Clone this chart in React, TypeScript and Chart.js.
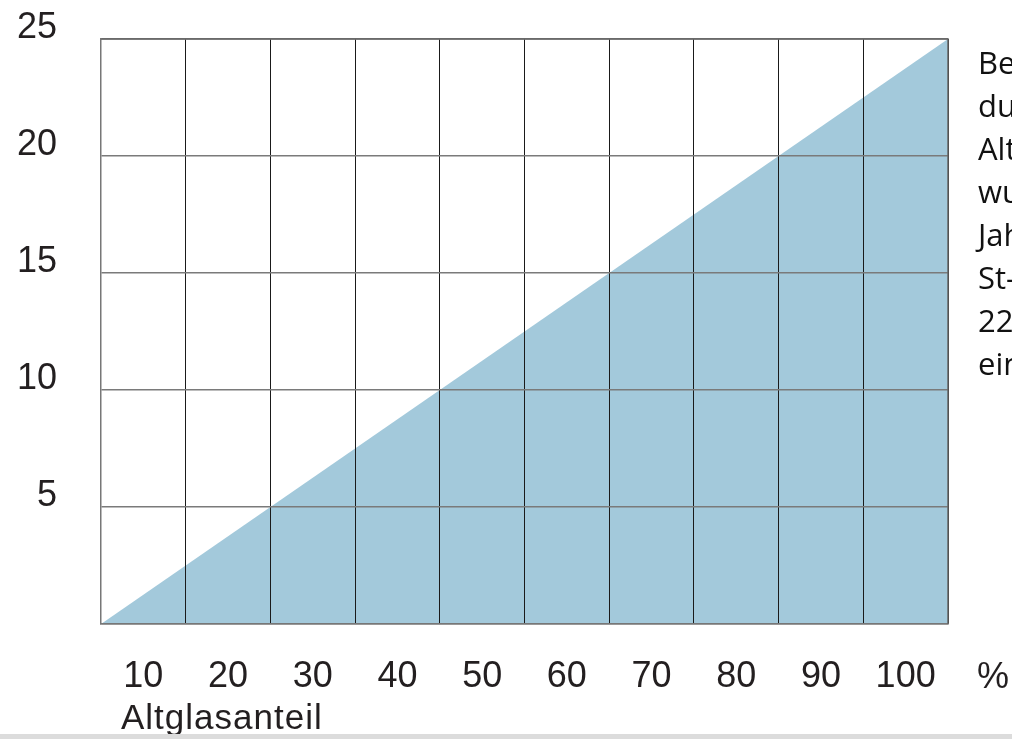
import React, { useEffect, useRef } from "react";
import { Chart, registerables } from "chart.js";

Chart.register(...registerables);

const categories = ["10", "20", "30", "40", "50", "60", "70", "80", "90", "100"];
const lineX = [0, 100];
const lineY = [0, 25];
const yTickValues = [0, 5, 10, 15, 20, 25];
const xUnit = "%";
const xTitle = "Altglasanteil";
const sideLines = [
  "Bei der Glasherstellung",
  "durch den Einsatz von",
  "Altglas eingespart",
  "wurden im",
  "Jahr 2010 rund",
  "St-Einheiten",
  "22 Prozent",
  "eingespart",
];

const FONT = "'Liberation Sans', Arial, sans-serif";
const TEXT = "#231f20";

export default function App() {
  const ref = useRef<HTMLCanvasElement | null>(null);

  useEffect(() => {
    if (!ref.current) return;
    const chart = new Chart(ref.current, {
      type: "line",
      data: {
        labels: categories,
        datasets: [
          {
            data: lineX.map((x, i) => ({ x, y: lineY[i] })),
            xAxisID: "xv",
            yAxisID: "y",
            borderWidth: 0,
            borderColor: "rgba(0,0,0,0)",
            backgroundColor: "#a3c9db",
            fill: "origin",
            pointRadius: 0,
            tension: 0,
          },
        ],
      },
      options: {
        animation: false,
        responsive: true,
        maintainAspectRatio: false,
        layout: { padding: { left: 0, right: 64, top: 39, bottom: 0 } },
        plugins: { legend: { display: false }, tooltip: { enabled: false } },
        scales: {
          x: {
            type: "category",
            position: "bottom",
            offset: true,
            grid: {
              offset: true,
              color: "#1a1a1a",
              lineWidth: 1,
              drawTicks: false,
              z: 1,
            },
            border: { display: true, color: "#777", width: 1.5, z: 2 },
            ticks: {
              color: TEXT,
              font: { family: FONT, size: 36 },
              padding: 31,
              maxRotation: 0,
              autoSkip: false,
            },
            afterFit: (s: any) => {
              s.height = 116;
            },
          },
          xv: {
            type: "linear",
            display: false,
            min: 0,
            max: 100,
          },
          y: {
            type: "linear",
            min: 0,
            max: 25,
            afterBuildTicks: (s: any) => {
              s.ticks = yTickValues.map((v) => ({ value: v }));
            },
            grid: {
              color: "#7a7a7a",
              lineWidth: 1.5,
              drawTicks: true,
              tickLength: 44,
              tickColor: "rgba(0,0,0,0)",
              z: 1,
            },
            border: { display: true, color: "#777", width: 1.5, z: 2 },
            ticks: {
              color: TEXT,
              font: { family: FONT, size: 36 },
              padding: 0,
              labelOffset: -11,
              callback: (v: any) => (v === 0 ? "" : String(v)),
            },
            afterFit: (s: any) => {
              s.width = 101;
            },
          },
        },
      },
      plugins: [
        {
          id: "frame",
          afterDraw: (c: any) => {
            const { ctx, chartArea } = c;
            ctx.save();
            ctx.strokeStyle = "#666";
            ctx.lineWidth = 1.5;
            ctx.beginPath();
            ctx.moveTo(chartArea.left, chartArea.top);
            ctx.lineTo(chartArea.right, chartArea.top);
            ctx.lineTo(chartArea.right, chartArea.bottom);
            ctx.stroke();
            ctx.restore();
          },
        },
      ],
    });
    return () => chart.destroy();
  }, []);

  return (
    <div
      style={{
        position: "fixed",
        left: 0,
        top: 0,
        width: 1012,
        height: 740,
        overflow: "hidden",
        background: "#fff",
      }}
    >
      <canvas ref={ref} style={{ position: "absolute", left: 0, top: 0, width: 1012, height: 740 }} />
      <div
        style={{
          position: "absolute",
          left: 978,
          top: 41,
          fontFamily: "'Open Sans', 'Noto Sans', sans-serif",
          fontSize: 31,
          lineHeight: "43px",
          color: "#111",
          whiteSpace: "nowrap",
        }}
      >
        {sideLines.map((l, i) => (
          <div key={i}>{l}</div>
        ))}
      </div>
      <div
        style={{
          position: "absolute",
          left: 977,
          top: 658,
          fontFamily: FONT,
          fontSize: 36,
          lineHeight: "36px",
          color: TEXT,
        }}
      >
        {xUnit}
      </div>
      <div
        style={{
          position: "absolute",
          left: 121,
          top: 699,
          fontFamily: FONT,
          fontSize: 35,
          lineHeight: "35px",
          letterSpacing: 1,
          color: TEXT,
          whiteSpace: "nowrap",
        }}
      >
        {xTitle}
      </div>
      <div
        style={{
          position: "absolute",
          left: 0,
          top: 734,
          width: 1012,
          height: 5,
          background: "#dcdcdc",
        }}
      />
    </div>
  );
}
